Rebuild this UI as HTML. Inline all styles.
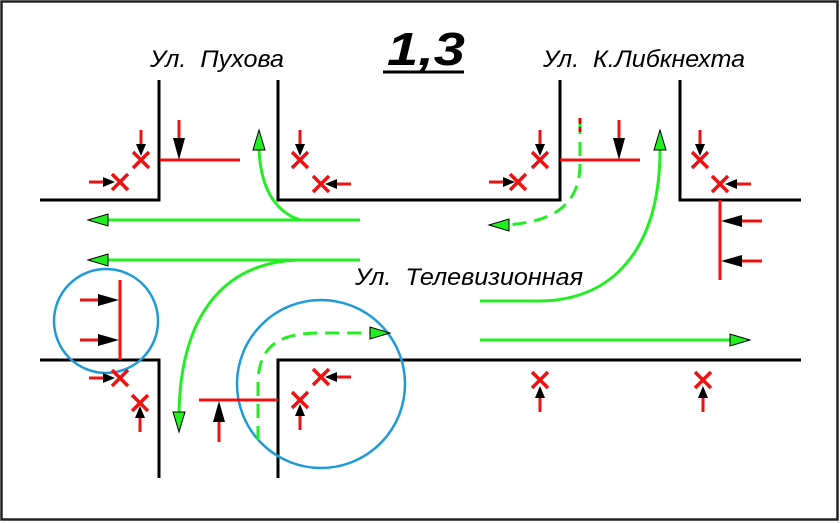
<!DOCTYPE html>
<html><head><meta charset="utf-8"><style>
html,body{margin:0;padding:0;background:#fff;}
svg{display:block;}
text{font-family:"Liberation Sans","DejaVu Sans",sans-serif;font-style:italic;fill:#000;}
</style></head><body>
<svg width="840" height="523" viewBox="0 0 840 523" xmlns="http://www.w3.org/2000/svg">
<rect x="1.5" y="1.5" width="836" height="518" fill="#fff" stroke="#222" stroke-width="2.5"/>
<!-- title -->
<text x="387" y="65" font-size="46" font-weight="bold" textLength="78" lengthAdjust="spacingAndGlyphs">1,3</text>
<line x1="383" y1="72" x2="464" y2="72" stroke="#000" stroke-width="3"/>
<text x="150" y="67" font-size="24" textLength="134" lengthAdjust="spacingAndGlyphs">Ул.&#160;&#160;Пухова</text>
<text x="543" y="67" font-size="24" textLength="202" lengthAdjust="spacingAndGlyphs">Ул.&#160;&#160;К.Либкнехта</text>
<text x="355" y="285" font-size="24" textLength="228" lengthAdjust="spacingAndGlyphs">Ул.&#160;&#160;Телевизионная</text>
<!-- roads -->
<g fill="none" stroke="#000" stroke-width="3">
<polyline points="40,200 159,200 159,80"/>
<polyline points="278,80 278,200 560,200 560,80"/>
<polyline points="680,80 680,200 801,200"/>
<polyline points="40,360 159,360 159,478"/>
<polyline points="278,478 278,360 801,360"/>
</g>
<!-- blue circles -->
<circle cx="106" cy="321" r="52" fill="none" stroke="#1e9ad8" stroke-width="2.5"/>
<circle cx="321" cy="384" r="84" fill="none" stroke="#1e9ad8" stroke-width="2.5"/>
<!-- green paths -->
<g fill="none" stroke="#22ee22" stroke-width="3">
<line x1="104" y1="220" x2="360" y2="220"/>
<path d="M300,220 C270,210 260,180 259,148"/>
<line x1="104" y1="260" x2="360" y2="260"/>
<path d="M300,260 C220,262 180,320 179,415"/>
<path d="M580,120 L580,168 C578,200 560,222 505,225" stroke-dasharray="14,8"/>
<path d="M480,301 L540,301 C620,300 660,240 660,150"/>
<line x1="480" y1="340" x2="732" y2="340"/>
<path d="M258,440 L258,380 C260,345 280,333 320,333 L370,333" stroke-dasharray="14,8"/>
</g>
<g fill="#22ee22" stroke="#000" stroke-width="1">
<polygon points="88,220 108,214 108,226"/>
<polygon points="88,260 108,254 108,266"/>
<polygon points="259,130 253,150 265,150"/>
<polygon points="179,432 173,412 185,412"/>
<polygon points="489,225 509,219 509,231"/>
<polygon points="660,130 654,150 666,150"/>
<polygon points="750,340 730,334 730,346"/>
<polygon points="390,333 370,327 370,339"/>
</g>
<line x1="580" y1="118" x2="580" y2="132" stroke="#e00" stroke-width="3" stroke-dasharray="6,3"/>
<!-- red stop lines -->
<g stroke="#ee1111" stroke-width="3" fill="none">
<line x1="160" y1="160" x2="240" y2="160"/>
<line x1="560" y1="160" x2="640" y2="160"/>
<line x1="720" y1="200" x2="720" y2="280"/>
<line x1="120" y1="280" x2="120" y2="360"/>
<line x1="199" y1="400" x2="278" y2="400"/>
</g>
<g stroke="#ee1111" stroke-width="3.5" fill="none">
<!-- X marks -->
<path d="M133,152 L149,168 M149,152 L133,168"/>
<path d="M112,174 L128,190 M128,174 L112,190"/>
<path d="M292,152 L308,168 M308,152 L292,168"/>
<path d="M313,176 L329,192 M329,176 L313,192"/>
<path d="M532,152 L548,168 M548,152 L532,168"/>
<path d="M510,174 L526,190 M526,174 L510,190"/>
<path d="M692,152 L708,168 M708,152 L692,168"/>
<path d="M712,176 L728,192 M728,176 L712,192"/>
<path d="M112,370 L128,386 M128,370 L112,386"/>
<path d="M132,395 L148,411 M148,395 L132,411"/>
<path d="M313,369 L329,385 M329,369 L313,385"/>
<path d="M292,392 L308,408 M308,392 L292,408"/>
<path d="M532,372 L548,388 M548,372 L532,388"/>
<path d="M695,372 L711,388 M711,372 L695,388"/>
</g>
<g stroke="#ee1111" stroke-width="3" fill="none">
<!-- arrow shafts -->
<line x1="141" y1="130" x2="141" y2="146"/>
<line x1="89" y1="182" x2="105" y2="182"/>
<line x1="179" y1="120" x2="179" y2="142"/>
<line x1="300" y1="130" x2="300" y2="146"/>
<line x1="351" y1="184" x2="335" y2="184"/>
<line x1="540" y1="130" x2="540" y2="146"/>
<line x1="489" y1="182" x2="505" y2="182"/>
<line x1="619" y1="120" x2="619" y2="142"/>
<line x1="700" y1="130" x2="700" y2="146"/>
<line x1="751" y1="184" x2="735" y2="184"/>
<line x1="762" y1="221" x2="738" y2="221"/>
<line x1="762" y1="261" x2="738" y2="261"/>
<line x1="80" y1="300" x2="102" y2="300"/>
<line x1="80" y1="340" x2="102" y2="340"/>
<line x1="89" y1="378" x2="105" y2="378"/>
<line x1="140" y1="432" x2="140" y2="416"/>
<line x1="219" y1="442" x2="219" y2="418"/>
<line x1="300" y1="430" x2="300" y2="414"/>
<line x1="351" y1="377" x2="335" y2="377"/>
<line x1="540" y1="412" x2="540" y2="396"/>
<line x1="703" y1="412" x2="703" y2="396"/>
</g>
<!-- black heads -->
<g fill="#000">
<polygon points="136,144 146,144 141,156"/>
<polygon points="103,177 103,187 115,182"/>
<polygon points="173,138 185,138 179,160"/>
<polygon points="295,144 305,144 300,156"/>
<polygon points="337,179 337,189 325,184"/>
<polygon points="535,144 545,144 540,156"/>
<polygon points="503,177 503,187 515,182"/>
<polygon points="613,138 625,138 619,160"/>
<polygon points="695,144 705,144 700,156"/>
<polygon points="737,179 737,189 725,184"/>
<polygon points="742,215 742,227 721,221"/>
<polygon points="742,255 742,267 721,261"/>
<polygon points="98,294 98,306 119,300"/>
<polygon points="98,334 98,346 119,340"/>
<polygon points="103,373 103,383 115,378"/>
<polygon points="135,418 145,418 140,406"/>
<polygon points="213,422 225,422 219,401"/>
<polygon points="295,416 305,416 300,404"/>
<polygon points="337,372 337,382 325,377"/>
<polygon points="535,398 545,398 540,386"/>
<polygon points="698,398 708,398 703,386"/>
</g>
</svg>
</body></html>
